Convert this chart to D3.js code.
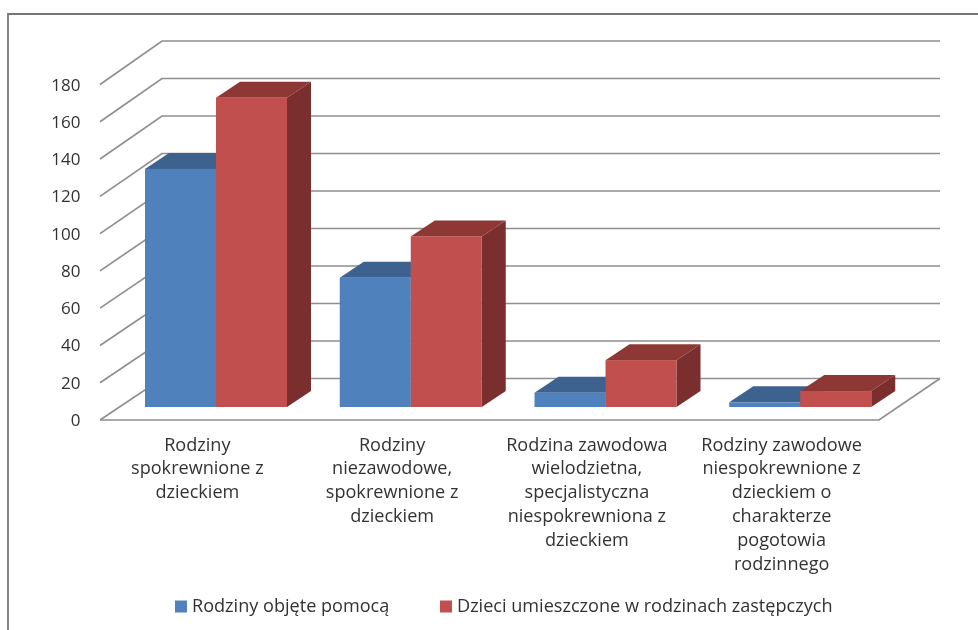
<!DOCTYPE html>
<html><head><meta charset="utf-8">
<script src="https://cdn.jsdelivr.net/npm/d3@7"></script>
<style>html,body{margin:0;padding:0;background:#fff}svg{display:block}text{font-family:"Open Sans",sans-serif;fill:#333}</style>
</head><body><svg id="c" width="978" height="630"></svg>
<script>
const categories = [
  ["Rodziny","spokrewnione z","dzieckiem"],
  ["Rodziny","niezawodowe,","spokrewnione z","dzieckiem"],
  ["Rodzina zawodowa","wielodzietna,","specjalistyczna","niespokrewniona z","dzieckiem"],
  ["Rodziny zawodowe","niespokrewnione z","dzieckiem o","charakterze","pogotowia","rodzinnego"]
];
const seriesNames = ["Rodziny objęte pomocą","Dzieci umieszczone w rodzinach zastępczych"];
const rodziny = [127, 69, 7.6, 2.5];
const dzieci = [165, 91, 25, 8.5];
const ticks = [0,20,40,60,80,100,120,140,160,180];
const faceColors = ["#4F81BD","#C0504D"];
const topColors = ["#3C628F","#8E3836"];
const sideColors = ["#335378","#7A2F2D"];

const svg = d3.select("#c");
const defs = svg.append("defs");
defs.append("filter").attr("id","soft").append("feGaussianBlur").attr("stdDeviation",0.5);
const g = svg.append("g").attr("filter","url(#soft)");

const x0 = d3.scaleBand().domain(d3.range(categories.length)).range([100,879]);
const x1 = d3.scaleBand().domain([0,1]).range([45,187]);
const yFront = d3.scaleLinear().domain([0,180]).range([420,84.5]);
const yBack = d3.scaleLinear().domain([0,180]).range([378.5,41]);
const yBar = d3.scaleLinear().domain([0,180]).range([407,69.5]);
const dx = 24, dy = 16, backX = 162, backEnd = 940;
const gridColor = "#8f8f8f";

// frame
g.append("path").attr("d","M8,630V14H978").attr("fill","none").attr("stroke","#777").attr("stroke-width",1.8);

// gridlines
ticks.forEach(t=>{
  g.append("path").attr("d",`M100,${yFront(t)}L${backX},${yBack(t)}H${backEnd}`)
   .attr("fill","none").attr("stroke",gridColor).attr("stroke-width",1.7);
});
// floor
g.append("path").attr("d",`M100,${yFront(0)}H879L${backEnd},${yBack(0)}`)
  .attr("fill","none").attr("stroke",gridColor).attr("stroke-width",1.7);

// bars
[rodziny,dzieci].forEach((vals,s)=>{
  vals.forEach((v,i)=>{
    const xl = x0(i)+x1(s), w = x1.bandwidth(), yt = yBar(v), yb = yBar(0);
    const b = g.append("g");
    b.append("path").attr("d",`M${xl+w},${yt}l${dx},${-dy}V${yb-dy}L${xl+w},${yb}Z`).attr("fill",sideColors[s]);
    b.append("path").attr("d",`M${xl},${yt}l${dx},${-dy}h${w}l${-dx},${dy}Z`).attr("fill",topColors[s]);
    b.append("rect").attr("x",xl).attr("y",yt).attr("width",w).attr("height",yb-yt).attr("fill",faceColors[s]);
  });
});

// y tick labels
g.selectAll(".yl").data(ticks).join("text").attr("class","yl")
 .attr("x",80.5).attr("y",d=>yFront(d)+6).attr("text-anchor","end").attr("font-size",17).text(d=>d);

// category labels
categories.forEach((lines,i)=>{
  const cx = x0(i)+x0.bandwidth()/2;
  lines.forEach((l,k)=>{
    g.append("text").attr("x",cx).attr("y",450.5+k*23.8).attr("text-anchor","middle").attr("font-size",18.1).text(l);
  });
});

// legend
const legendX = [[175,192],[440,457]];
seriesNames.forEach((n,s)=>{
  g.append("rect").attr("x",legendX[s][0]).attr("y",600.5).attr("width",12).attr("height",12).attr("fill",faceColors[s]);
  g.append("text").attr("x",legendX[s][1]).attr("y",612).attr("font-size",18.1).text(n);
});
</script></body></html>
